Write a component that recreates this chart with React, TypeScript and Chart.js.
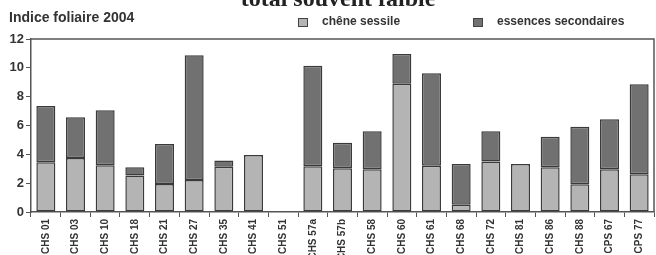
import React, { useEffect, useRef } from "react";
import { Chart, registerables } from "chart.js";

Chart.register(...registerables);

const categories = [
  "CHS 01", "CHS 03", "CHS 10", "CHS 18", "CHS 21", "CHS 27", "CHS 35", "CHS 41",
  "CHS 51", "CHS 57a", "CHS 57b", "CHS 58", "CHS 60", "CHS 61", "CHS 68", "CHS 72",
  "CHS 81", "CHS 86", "CHS 88", "CPS 67", "CPS 77",
];
const cheneSessile = [
  3.45, 3.74, 3.24, 2.54, 1.94, 2.22, 3.14, 3.95, 0, 3.17, 3.03, 2.96, 8.9, 3.21,
  0.51, 3.51, 3.33, 3.1, 1.92, 2.96, 2.61,
];
const essencesSecondaires = [
  3.9, 2.83, 3.81, 0.56, 2.78, 8.65, 0.44, 0, 0, 6.98, 1.78, 2.64, 2.06, 6.41,
  2.82, 2.09, 0, 2.12, 4.0, 3.47, 6.25,
];
const yTicks = [0, 2, 4, 6, 8, 10, 12];

const LIGHT = "#b4b4b4";
const DARK = "#717171";
const INK = "#333333";
const SANS = "'Liberation Sans', Arial, sans-serif";

const decorPlugin = {
  id: "decor",
  afterDraw(chart: any) {
    const ctx = chart.ctx;
    const a = chart.chartArea;
    ctx.save();
    ctx.strokeStyle = "#555";
    ctx.lineWidth = 1.5;
    ctx.beginPath();
    ctx.moveTo(a.left, a.top);
    ctx.lineTo(a.right, a.top);
    ctx.lineTo(a.right, a.bottom);
    ctx.stroke();
    ctx.fillStyle = "#222";
    ctx.font = "bold 24px 'Liberation Serif', serif";
    ctx.textAlign = "center";
    ctx.textBaseline = "alphabetic";
    ctx.fillText("total souvent faible", 338, 6);
    ctx.fillStyle = INK;
    ctx.font = `bold 14px ${SANS}`;
    ctx.textAlign = "left";
    ctx.textBaseline = "middle";
    ctx.fillText("Indice foliaire 2004", 9, 18);
    const items = [
      { x: 298, color: LIGHT, text: "chêne sessile" },
      { x: 473, color: DARK, text: "essences secondaires" },
    ];
    ctx.font = `bold 12px ${SANS}`;
    for (const it of items) {
      ctx.fillStyle = it.color;
      ctx.fillRect(it.x, 18, 10, 9);
      ctx.strokeStyle = "#444";
      ctx.lineWidth = 1;
      ctx.strokeRect(it.x + 0.5, 18.5, 9, 8);
      ctx.fillStyle = INK;
      ctx.fillText(it.text, it.x + 24, 22);
    }
    ctx.restore();
  },
};

const nz = (arr: number[]) => arr.map((v) => (v === 0 ? null : v));

export default function App() {
  const ref = useRef<HTMLCanvasElement | null>(null);
  useEffect(() => {
    document.body.style.margin = "0";
    const canvas = ref.current!;
    const common = {
      borderColor: "#3a3a3a",
      borderWidth: 1.5,
      borderSkipped: false,
      categoryPercentage: 0.64,
      barPercentage: 1,
    };
    const chart = new Chart(canvas, {
      type: "bar",
      data: {
        labels: categories,
        datasets: [
          { label: "chêne sessile", data: nz(cheneSessile), backgroundColor: LIGHT, ...common },
          { label: "essences secondaires", data: nz(essencesSecondaires), backgroundColor: DARK, ...common },
        ],
      },
      options: {
        responsive: false,
        animation: false,
        layout: { padding: { top: 39, right: 2, left: 0, bottom: 0 } },
        plugins: { legend: { display: false }, tooltip: { enabled: false }, title: { display: false } },
        scales: {
          x: {
            stacked: true,
            grid: { display: true, drawOnChartArea: false, tickLength: 5, color: "#555", lineWidth: 1 },
            border: { display: true, color: "#555", width: 1.5 },
            ticks: {
              minRotation: 90,
              maxRotation: 90,
              autoSkip: false,
              color: INK,
              padding: 2,
              font: { family: SANS, size: 10, weight: "bold" },
            },
            afterFit(scale: any) {
              scale.height = 43;
            },
          },
          y: {
            stacked: true,
            min: 0,
            max: 12,
            afterBuildTicks(scale: any) {
              scale.ticks = yTicks.map((v) => ({ value: v }));
            },
            grid: { display: true, drawOnChartArea: false, tickLength: 5, color: "#555", lineWidth: 1 },
            border: { display: true, color: "#555", width: 1.5 },
            ticks: {
              color: INK,
              padding: 2,
              font: { family: SANS, size: 13, weight: "bold" },
            },
            afterFit(scale: any) {
              scale.width = 31;
            },
          },
        },
      },
      plugins: [decorPlugin],
    });
    return () => chart.destroy();
  }, []);
  return (
    <div style={{ width: 656, height: 255, background: "#fff" }}>
      <canvas ref={ref} width={656} height={255} style={{ display: "block" }} />
    </div>
  );
}
